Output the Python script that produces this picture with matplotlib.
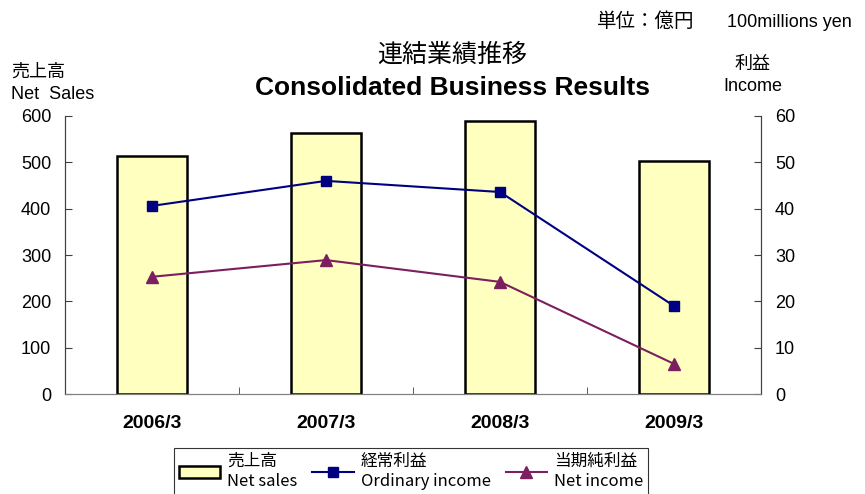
import numpy as np
import matplotlib.pyplot as plt
from matplotlib.patches import Patch
from matplotlib.lines import Line2D

plt.rcParams['font.family'] = ['Liberation Sans', 'Noto Sans CJK JP', 'DejaVu Sans']

# data (100 million yen)
years = ['2006/3', '2007/3', '2008/3', '2009/3']
net_sales = [514, 563, 589, 503]
ordinary_income = [40.6, 46.0, 43.6, 19.0]
net_income = [25.3, 28.9, 24.2, 6.5]

jp = ['Noto Sans CJK JP', 'DejaVu Sans']

fig = plt.figure(figsize=(8.65, 4.94), dpi=100)
ax = fig.add_axes([65/865, 100/494, 696/865, 278/494])
ax2 = ax.twinx()
ax.set_zorder(ax2.get_zorder() - 1)
ax2.patch.set_visible(False)

x = np.arange(len(years))
ax.bar(x, net_sales, width=0.4, color='#ffffc0', edgecolor='black', linewidth=1.8)
ax.set_xlim(-0.5, 3.5)
ax.set_ylim(0, 600)
ax.set_yticks(range(0, 601, 100))

ax2.plot(x, ordinary_income, color='#000080', marker='s', ms=7, lw=1.5)
ax2.plot(x, net_income, color='#7b1f5e', marker='^', ms=8, lw=1.5)
ax2.set_ylim(0, 60)
ax2.set_yticks(range(0, 61, 10))

for a in (ax, ax2):
    a.spines['top'].set_visible(False)
    a.spines['bottom'].set_color('#808080')
    a.spines['left'].set_color('#404040')
    a.spines['right'].set_color('#404040')
    a.tick_params(axis='y', direction='in', length=5, labelsize=13, pad=10, color='#404040')

ax.set_xticks(x)
ax.set_xticklabels(years, fontsize=14, fontweight='bold')
ax.tick_params(axis='x', length=0, pad=15)
ax.set_xticks(np.arange(0.5, 3, 1), minor=True)
ax.tick_params(axis='x', which='minor', direction='in', length=5, color='#404040')

# titles and axis captions
fig.text(0.523, 0.875, '連結業績推移', ha='center', fontsize=18, family=jp)
fig.text(0.523, 0.808, 'Consolidated Business Results', ha='center', fontsize=19, fontweight='bold')
fig.text(0.69, 0.945, '単位：億円', fontsize=14, family=jp)
fig.text(0.84, 0.945, '100millions yen', fontsize=13)
fig.text(0.013, 0.845, '売上高', fontsize=13, family=jp)
fig.text(0.013, 0.80, 'Net  Sales', fontsize=13)
fig.text(0.87, 0.86, '利益', ha='center', fontsize=13, family=jp)
fig.text(0.87, 0.815, 'Income', ha='center', fontsize=13)

handles = [Patch(facecolor='#ffffc0', edgecolor='black', linewidth=1.8),
           Line2D([], [], color='#000080', marker='s', ms=7, lw=1.5),
           Line2D([], [], color='#7b1f5e', marker='^', ms=8, lw=1.5)]
labels = ['売上高\nNet sales', '経常利益\nOrdinary income', '当期純利益\nNet income']
leg = fig.legend(handles, labels, loc='upper center', bbox_to_anchor=(0.475, 0.11),
                 ncol=3, frameon=True, fancybox=False, edgecolor='black',
                 prop={'family': jp, 'size': 12}, handlelength=2.5, columnspacing=0.9,
                 handletextpad=0.4, borderpad=0.3, labelspacing=0.1)
leg.get_frame().set_linewidth(0.8)

fig.savefig('out.png', dpi=100)
